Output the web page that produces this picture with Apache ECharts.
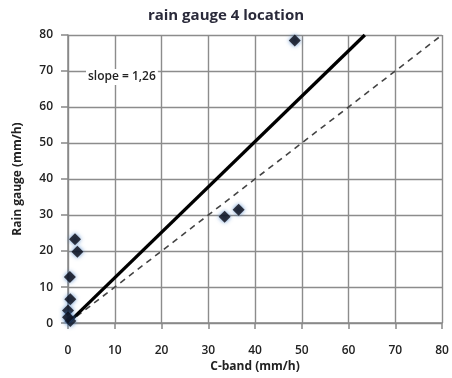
<!DOCTYPE html>
<html><head><meta charset="utf-8">
<script src="https://cdn.jsdelivr.net/npm/echarts@6/dist/echarts.min.js"></script>
<style>html,body{margin:0;padding:0;background:#fff}#c{width:452px;height:378px}</style>
</head><body><div id="c"></div>
<script>
const titleText = 'rain gauge 4 location';
const xName = 'C-band (mm/h)';
const yName = 'Rain gauge (mm/h)';
const slopeText = 'slope = 1,26';
const cband = [48.5, 33.5, 36.5, 1.5, 2.0, 0.4, 0.5, 0.0, 0.5, 0.0];
const gauge = [78.5, 29.5, 31.5, 23.3, 19.8, 12.8, 6.6, 3.5, 0.6, 1.6];
const slope = 1.26;
const fitX = [0, 80 / slope];
const fitY = [0, 80];
const oneX = [0, 80];
const oneY = [0, 80];

const font = 'Open Sans';
const chart = echarts.init(document.getElementById('c'));
chart.setOption({
  animation: false,
  title: { text: titleText, left: 'center', top: 3,
    textStyle: { fontFamily: font, fontSize: 15, fontWeight: 'bold', color: '#2a2a3a' } },
  grid: { left: 68, right: 10, top: 35, bottom: 52 },
  xAxis: { type: 'value', min: 0, max: 80, interval: 10,
    name: xName, nameLocation: 'middle', nameGap: 37,
    nameTextStyle: { fontFamily: font, fontSize: 12, fontWeight: 'bold', color: '#222' },
    axisLine: { lineStyle: { color: '#888', width: 1.5 } },
    axisTick: { show: true, length: 6, lineStyle: { color: '#888', width: 1.5 } },
    axisLabel: { margin: 21, fontFamily: font, fontSize: 12, fontWeight: 600, color: '#222' },
    splitLine: { lineStyle: { color: '#8c8c8c', width: 1.4 } } },
  yAxis: { type: 'value', min: 0, max: 80, interval: 10,
    name: yName, nameLocation: 'middle', nameGap: 44,
    nameTextStyle: { fontFamily: font, fontSize: 12, fontWeight: 'bold', color: '#222' },
    axisLine: { show: true, lineStyle: { color: '#888', width: 1.5 } },
    axisTick: { show: true, length: 7, lineStyle: { color: '#888', width: 1.5 } },
    axisLabel: { margin: 15, fontFamily: font, fontSize: 12, fontWeight: 600, color: '#222' },
    splitLine: { lineStyle: { color: '#8c8c8c', width: 1.4 } } },
  series: [
    { type: 'line', data: oneX.map((x, i) => [x, oneY[i]]), symbol: 'none',
      lineStyle: { color: '#444', width: 1.6, type: [6, 5] }, z: 2 },
    { type: 'line', data: fitX.map((x, i) => [x, fitY[i]]), symbol: 'none',
      lineStyle: { color: '#000', width: 3.3 }, z: 3 },
    { type: 'scatter', data: cband.map((x, i) => [x, gauge[i]]), symbol: 'diamond',
      symbolSize: 12, itemStyle: { color: '#0a0a14', shadowBlur: 4, shadowColor: '#3d78c0' }, z: 4 }
  ],
  graphic: [
    { type: 'text', left: 86, top: 69, z: 10,
      style: { text: slopeText, fontFamily: font, fontSize: 12, fontWeight: 600, fill: '#222',
        backgroundColor: '#fff', padding: [2, 2] } }
  ]
});
</script></body></html>
